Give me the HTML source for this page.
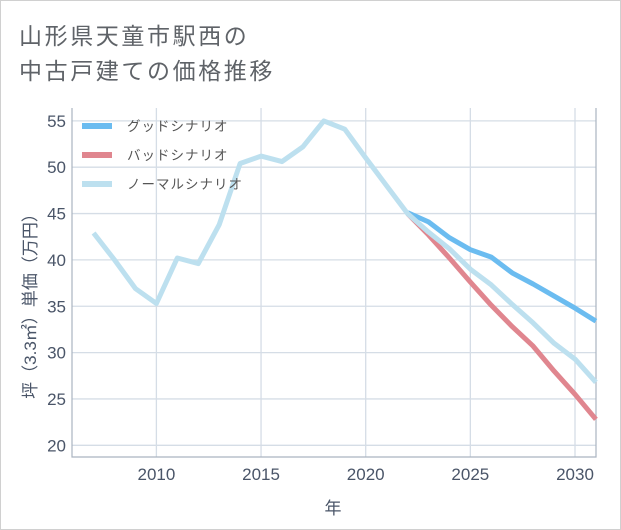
<!DOCTYPE html>
<html><head><meta charset="utf-8"><style>
html,body{margin:0;padding:0;background:#fff;}
#wrap{position:relative;width:621px;height:530px;overflow:hidden;font-family:"Liberation Sans","Noto Sans CJK JP",sans-serif;}
#frame{position:absolute;left:0;top:0;width:619px;height:528px;border:1px solid #d0d0d0;}
.title{position:absolute;left:19px;font-size:23px;letter-spacing:2.6px;color:#5f6368;white-space:nowrap;}
</style></head><body>
<div id="wrap">
<div id="frame"></div>
<div class="title" style="top:17px">山形県天童市駅西の</div>
<div class="title" style="top:52px">中古戸建ての価格推移</div>
<svg id="chart" width="621" height="530" style="position:absolute;left:0;top:0"></svg>
</div>
<script>
const years=[2007,2008,2009,2010,2011,2012,2013,2014,2015,2016,2017,2018,2019,2020,2021,2022,2023,2024,2025,2026,2027,2028,2029,2030,2031];
const normalVals=[42.9,40.0,36.9,35.3,40.2,39.6,43.8,50.4,51.2,50.6,52.2,55.0,54.1,51.0,48.0,45.0,43.0,41.2,39.0,37.3,35.2,33.2,31.0,29.3,26.8];
const goodYears=[2022,2023,2024,2025,2026,2027,2028,2029,2030,2031];
const goodVals=[45.1,44.1,42.4,41.1,40.3,38.6,37.4,36.1,34.8,33.4];
const badYears=[2022,2023,2024,2025,2026,2027,2028,2029,2030,2031];
const badVals=[45.0,42.7,40.2,37.6,35.1,32.8,30.7,28.0,25.5,22.8];
const xTicks=[2010,2015,2020,2025,2030];
const yTicks=[20,25,30,35,40,45,50,55];
const legendLabels=["グッドシナリオ","バッドシナリオ","ノーマルシナリオ"];
const legendColors=["#6bbcf0","#e0868f","#bde0ef"];

const L=72,R=596,T=108,B=457;
const X=y=>156.4+(y-2010)*20.93;
const Y=v=>445.3-(v-20)*9.27;
const svg=document.getElementById('chart');
const NS='http://www.w3.org/2000/svg';
function mk(tag,attrs,parent){const e=document.createElementNS(NS,tag);for(const k in attrs)e.setAttribute(k,attrs[k]);(parent||svg).appendChild(e);return e;}

const grid=mk('g',{});


yTicks.forEach(v=>{
  const l=mk('line',{x1:L,x2:R,y1:Y(v),y2:Y(v),stroke:'#d5dde6','stroke-width':1.3},grid);
  
  
  const t=mk('text',{x:L-6,y:Y(v)+6,'text-anchor':'end','font-size':17,fill:'#4a5568'});
  t.textContent=v;
  
  
});
xTicks.forEach(v=>{
  const l=mk('line',{x1:X(v),x2:X(v),y1:T,y2:B,stroke:'#d5dde6','stroke-width':1.3},grid);
  
  
  const t=mk('text',{x:X(v),y:B+23,'text-anchor':'middle','font-size':17,fill:'#4a5568'});
  t.textContent=v;
  
  
});
const ax=mk('path',{d:`M${L} ${T} V${B} H${R} V${T}`,fill:'none',stroke:'#aab4c0','stroke-width':1.2});



function line(xs,vs,color,name){
  const d=xs.map((y,i)=>(i?'L':'M')+X(y).toFixed(1)+' '+Y(vs[i]).toFixed(1)).join(' ');
  const p=mk('path',{d:d,fill:'none',stroke:color,'stroke-width':5,'stroke-linejoin':'round'});
  
  
}
line(goodYears,goodVals,legendColors[0],'good-scenario-line');
line(badYears,badVals,legendColors[1],'bad-scenario-line');
line(years,normalVals,legendColors[2],'normal-scenario-line');

legendLabels.forEach((lab,i)=>{
  const y=126+i*29;
  const g=mk('g',{});
  
  
  mk('rect',{x:82,y:y-3,width:30,height:6,fill:legendColors[i]},g);
  const t=mk('text',{x:127,y:y+5,'font-size':13.5,fill:'#555','letter-spacing':1},g);
  t.textContent=lab;
});

const xt=mk('text',{x:333,y:514,'text-anchor':'middle','font-size':17,fill:'#4a5568'});
xt.textContent='年';


const yt=mk('text',{x:0,y:0,'text-anchor':'middle','font-size':17,fill:'#4a5568',transform:'translate(36,302) rotate(-90)'});
yt.textContent='坪（3.3㎡）単価（万円）';


</script>
</body></html>
